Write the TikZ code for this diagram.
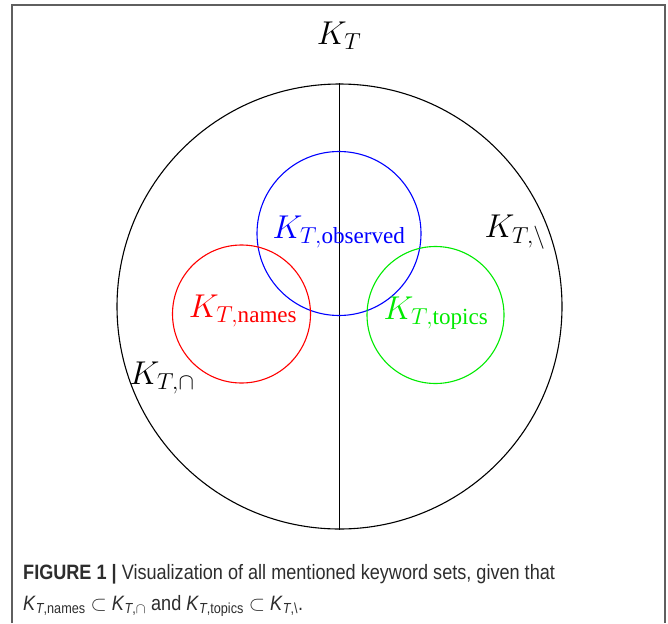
\RequirePackage{fix-cm}
\documentclass[tikz,border=0pt]{standalone}
\usepackage{amsmath}
\usepackage{fontspec}
\newfontfamily\tnr{Liberation Serif}
\newfontfamily\capfont[FakeStretch=0.87]{Liberation Sans}
\definecolor{framegray}{RGB}{95,95,95}
\definecolor{captext}{RGB}{45,45,45}
\definecolor{setgreen}{RGB}{0,235,0}
\tikzset{
  setcircle/.style={circle, draw, line width=1.1pt, inner sep=0pt, minimum size=#1},
  setlabel/.style={inner sep=0pt, font=\fontsize{33}{40}\selectfont},
  captionline/.style={inner sep=0pt, anchor=base west, text=captext, font=\capfont\fontsize{20.8}{25}\selectfont}
}
\newcommand{\tsub}[1]{\text{\tnr #1}}
\begin{document}
\begin{tikzpicture}[x=1pt,y=-1pt]
\useasboundingbox (0,0) rectangle (668,623);
\fill[white] (0,0) rectangle (668,623);
% frame (open at bottom)
\draw[framegray, line width=2pt] (12,623) -- (12,5) -- (665,5) -- (665,623);
% outer set
\node[setcircle=445pt, black] (outer) at (339.5,306.5) {};
\draw[black, line width=1pt] (outer.north) -- (outer.south);
% inner sets
\node[setcircle=164pt, blue] (obs) at (339,233.5) {};
\node[setcircle=138pt, red] (names) at (241.5,314) {};
\node[setcircle=137pt, setgreen] (topics) at (435.5,315) {};
% labels
\node[setlabel] (lKT) at (339,36) {$K_T$};
\node[setlabel, text=blue] (lobs) at (339,232) {$K_{T,\tsub{observed}}$};
\node[setlabel, text=red] (lnames) at (243,311) {$K_{T,\tsub{names}}$};
\node[setlabel, text=setgreen] (ltopics) at (436,313) {$K_{T,\tsub{topics}}$};
\node[setlabel] (lcap) at (162,378) {$K_{T,\cap}$};
\node[setlabel] (lminus) at (515,232) {$K_{T,\setminus}$};
% caption
\node[captionline] (cap1) at (23,579) {\textbf{FIGURE 1 |} Visualization of all mentioned keyword sets, given that};
\node[captionline] (cap2) at (23,610) {\textit{K}\textsubscript{\textit{T},names} $\subset$ \textit{K}\textsubscript{\textit{T},$\cap$} and \textit{K}\textsubscript{\textit{T},topics} $\subset$ \textit{K}\textsubscript{\textit{T},\textbackslash}.};
\end{tikzpicture}
\end{document}
